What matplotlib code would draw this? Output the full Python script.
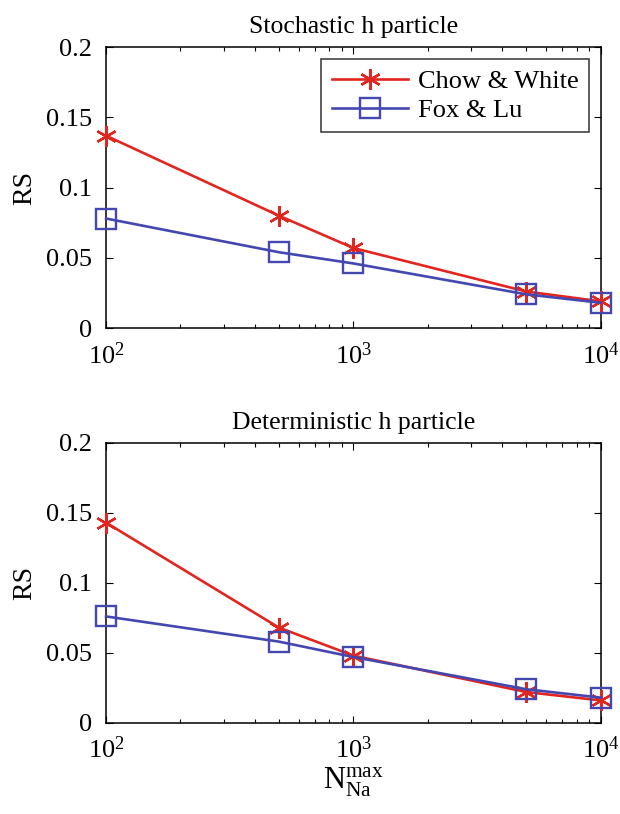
import numpy as np
import matplotlib
matplotlib.use("Agg")
import matplotlib.pyplot as plt
from matplotlib.ticker import LogLocator, NullFormatter

plt.rcParams['font.family'] = ['Liberation Serif', 'DejaVu Serif']
plt.rcParams['mathtext.fontset'] = 'custom'
plt.rcParams['mathtext.rm'] = 'Liberation Serif'
plt.rcParams['mathtext.it'] = 'Liberation Serif'

n_max = [100, 500, 1000, 5000, 10000]
stoch_chow = [0.137, 0.080, 0.057, 0.026, 0.019]
stoch_fox = [0.078, 0.054, 0.046, 0.024, 0.018]
det_chow = [0.143, 0.068, 0.048, 0.022, 0.016]
det_fox = [0.076, 0.058, 0.047, 0.024, 0.018]
titles = ['Stochastic h particle', 'Deterministic h particle']
red = '#e2261f'
blue = '#4547b0'

fig = plt.figure(figsize=(6.2, 8.14), dpi=100)
ax1 = fig.add_axes([0.171, 0.597, 0.798, 0.345])
ax2 = fig.add_axes([0.171, 0.112, 0.798, 0.344])

for ax, chow, fox, title in [(ax1, stoch_chow, stoch_fox, titles[0]),
                              (ax2, det_chow, det_fox, titles[1])]:
    ax.plot(n_max, chow, '-', color=red, lw=1.9, marker=(6, 2, 0),
            ms=15, mew=1.7, label='Chow & White', clip_on=False, zorder=3)
    ax.plot(n_max, fox, '-', color=blue, lw=1.9, marker='s', ms=14,
            mfc='none', mew=1.7, label='Fox & Lu', clip_on=False, zorder=3)
    ax.set_xscale('log')
    ax.set_xlim(100, 10000)
    ax.set_ylim(0, 0.2)
    ax.set_yticks([0, 0.05, 0.1, 0.15, 0.2])
    ax.set_yticklabels(['0', '0.05', '0.1', '0.15', '0.2'])
    ax.xaxis.set_major_locator(LogLocator(base=10, numticks=10))
    ax.xaxis.set_minor_locator(LogLocator(base=10, subs=np.arange(2, 10), numticks=10))
    ax.xaxis.set_minor_formatter(NullFormatter())
    ax.tick_params(which='both', direction='in', top=True, right=True,
                   labelsize=19, width=0.8)
    ax.tick_params(which='major', length=5)
    ax.tick_params(which='minor', length=3)
    ax.tick_params(axis='x', which='major', pad=10)
    ax.tick_params(axis='y', which='major', pad=10)
    for s in ax.spines.values():
        s.set_linewidth(1.1)
    ax.set_title(title, fontsize=18.5, pad=10)
    ax.set_ylabel('RS', fontsize=20, labelpad=6)

leg = ax1.legend(loc='upper right', fontsize=19, frameon=True, fancybox=False,
                 edgecolor='black', handlelength=2.9, handletextpad=0.35,
                 borderaxespad=0.45, labelspacing=0.2, borderpad=0.4)
leg.get_frame().set_linewidth(1.1)

ax2.set_xlabel(r'$\mathrm{N}_{\mathrm{Na}}^{\mathrm{max}}$', fontsize=22, labelpad=2)

fig.savefig('out.png', dpi=100)
